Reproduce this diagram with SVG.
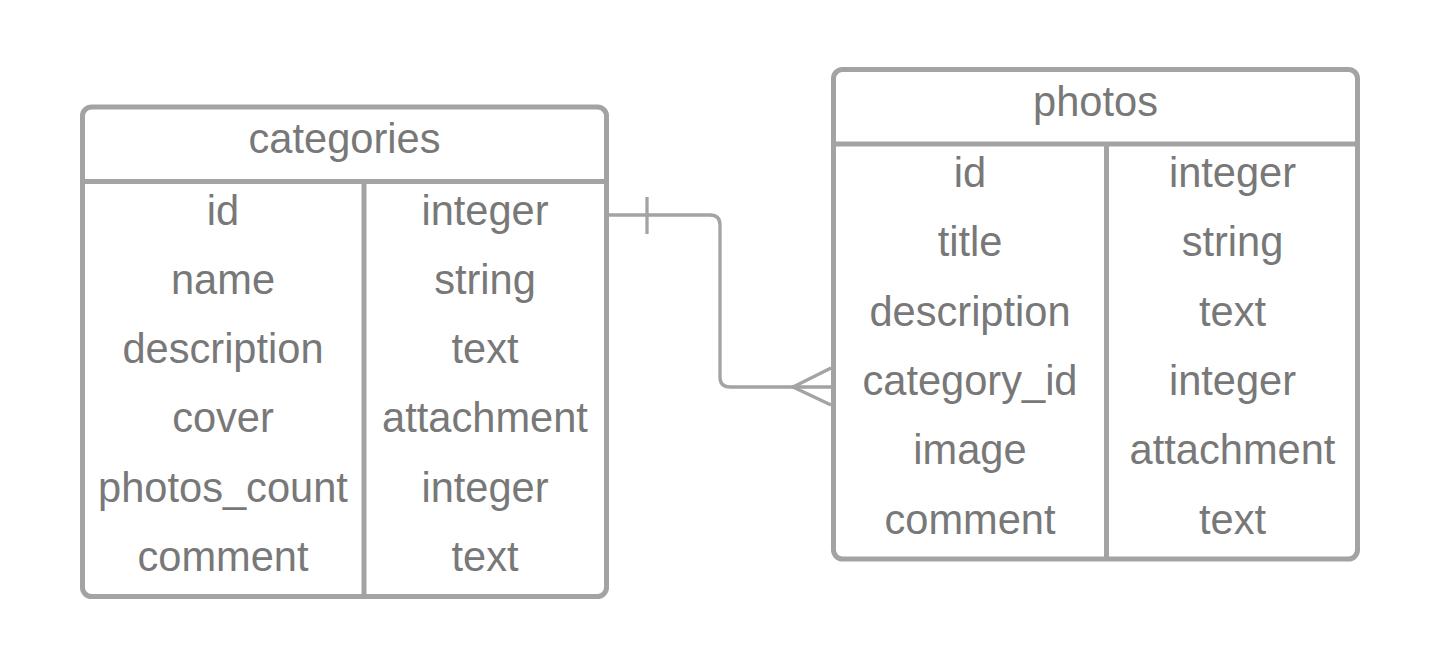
<svg xmlns="http://www.w3.org/2000/svg" width="1442" height="669" viewBox="0 0 1442 669">
<style>
.box{fill:#ffffff;stroke:#a3a3a3;stroke-width:5}
.ln{stroke:#a3a3a3;stroke-width:5;fill:none}
.conn{stroke:#a3a3a3;stroke-width:3.3;fill:none;stroke-linejoin:round}
text{font-family:"Liberation Sans",Arial,sans-serif;font-size:41.6px;fill:#787878;text-anchor:middle}
</style>
<rect width="1442" height="669" fill="#ffffff"/>
<g id="connectors">
<path class="conn" d="M609,215 H710 Q720,215 720,225 V377 Q720,387 730,387 H831"/>
<line class="conn" x1="647" y1="197" x2="647" y2="234"/>
<path class="conn" d="M831,368 L793,387 L831,405"/>
</g>
<g id="categories">
<rect class="box" x="82.5" y="107" width="524" height="489.5" rx="9"/>
<line class="ln" x1="82.5" y1="181.5" x2="606.5" y2="181.5"/>
<line class="ln" x1="364" y1="181.5" x2="364" y2="596.5"/>
<text x="344.5" y="153">categories</text>
<text x="223" y="224.5">id</text>
<text x="223" y="293.8">name</text>
<text x="223" y="363.1">description</text>
<text x="223" y="432.4">cover</text>
<text x="223" y="501.7">photos_count</text>
<text x="223" y="571">comment</text>
<text x="485" y="224.5">integer</text>
<text x="485" y="293.8">string</text>
<text x="485" y="363.1">text</text>
<text x="485" y="432.4">attachment</text>
<text x="485" y="501.7">integer</text>
<text x="485" y="571">text</text>
</g>
<g id="photos">
<rect class="box" x="833.5" y="69.5" width="524" height="489.5" rx="9"/>
<line class="ln" x1="833.5" y1="144" x2="1357.5" y2="144"/>
<line class="ln" x1="1106.5" y1="144" x2="1106.5" y2="559"/>
<text x="1095.5" y="115.5">photos</text>
<text x="970" y="187">id</text>
<text x="970" y="256.3">title</text>
<text x="970" y="325.6">description</text>
<text x="970" y="394.9">category_id</text>
<text x="970" y="464.2">image</text>
<text x="970" y="533.5">comment</text>
<text x="1232.5" y="187">integer</text>
<text x="1232.5" y="256.3">string</text>
<text x="1232.5" y="325.6">text</text>
<text x="1232.5" y="394.9">integer</text>
<text x="1232.5" y="464.2">attachment</text>
<text x="1232.5" y="533.5">text</text>
</g>
</svg>
